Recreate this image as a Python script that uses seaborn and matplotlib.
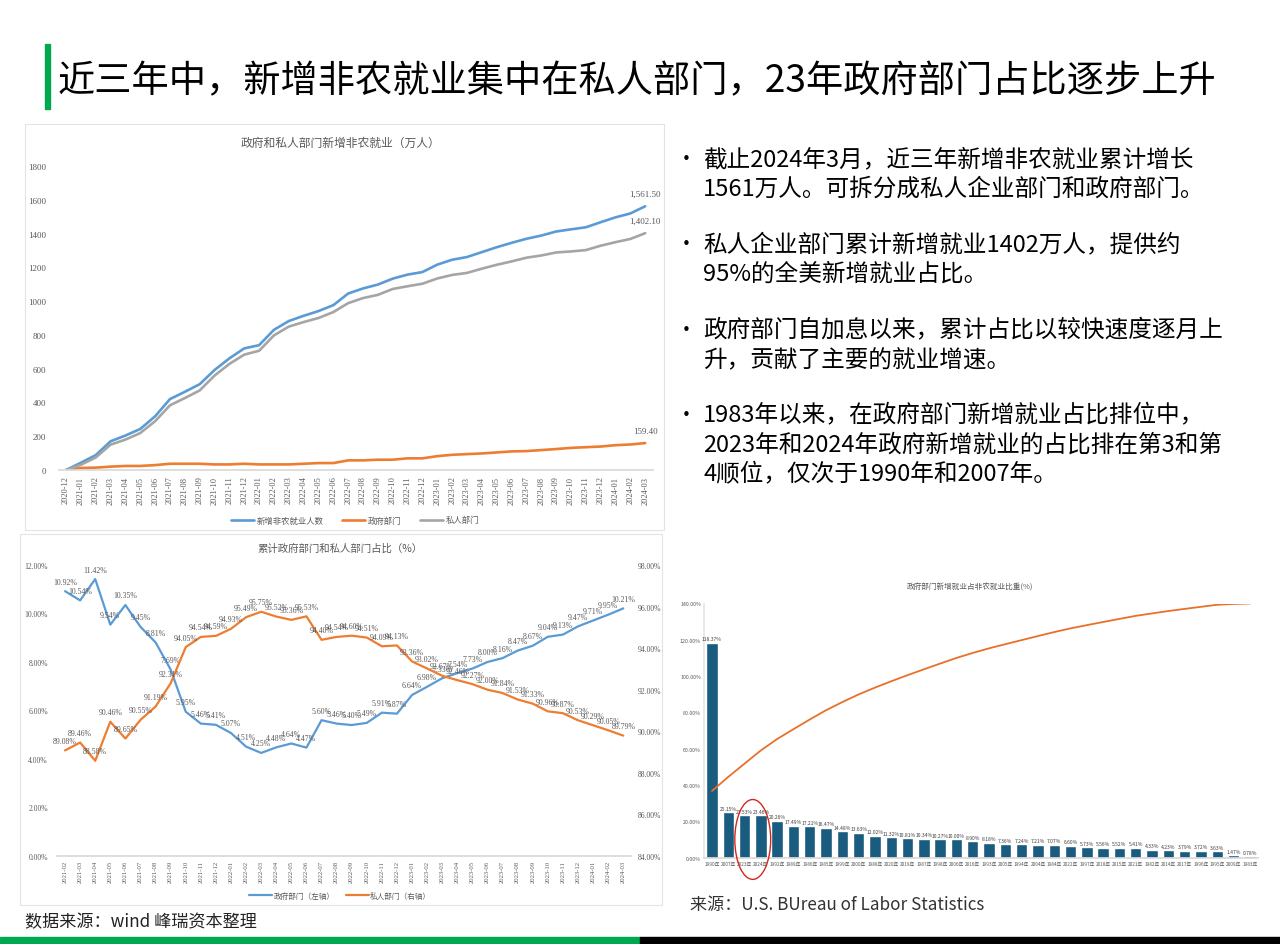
import numpy as np
import matplotlib
matplotlib.use('Agg')
import matplotlib.pyplot as plt
import seaborn as sns
from matplotlib.lines import Line2D
from matplotlib.patches import Rectangle, Ellipse

sns.set_theme(style='white')
plt.rcParams['font.family'] = ['Noto Sans CJK SC', 'DejaVu Sans']
plt.rcParams['axes.unicode_minus'] = False

W, H = 1280, 945

# ---------------- data ----------------
months_top = ['2020-12', '2021-01', '2021-02', '2021-03', '2021-04', '2021-05', '2021-06', '2021-07',
              '2021-08', '2021-09', '2021-10', '2021-11', '2021-12', '2022-01', '2022-02', '2022-03',
              '2022-04', '2022-05', '2022-06', '2022-07', '2022-08', '2022-09', '2022-10', '2022-11',
              '2022-12', '2023-01', '2023-02', '2023-03', '2023-04', '2023-05', '2023-06', '2023-07',
              '2023-08', '2023-09', '2023-10', '2023-11', '2023-12', '2024-01', '2024-02', '2024-03']
total_jobs = [0, 43, 88, 170, 204, 243, 318, 420, 463, 508, 592, 661, 720,
              739, 830, 882, 913, 941, 976, 1045, 1075, 1098, 1133, 1157, 1172,
              1216, 1245, 1261, 1290, 1319, 1345, 1369, 1388, 1412, 1425, 1437, 1467,
              1496, 1519, 1561.5]
gov_jobs = [0, 12, 14, 20, 24, 24, 29, 37, 37, 37, 33, 33, 37,
            33, 33, 33, 37, 41, 41, 57, 57, 61, 61, 69, 69,
            82, 90, 94, 98, 104, 110, 112, 118, 124, 131, 135, 139,
            147, 151, 159.4]
private_jobs = [0, 31, 74, 150, 180, 219, 289, 383, 426, 471, 559, 628, 683,
                706, 797, 849, 876, 900, 935, 988, 1018, 1037, 1072, 1088, 1103,
                1134, 1155, 1167, 1192, 1215, 1235, 1257, 1270, 1288, 1294, 1302, 1328,
                1349, 1368, 1402.1]
top_series = ['新增非农就业人数', '政府部门', '私人部门']

months_share = months_top[2:]
gov_share = [10.92, 10.54, 11.42, 9.54, 10.35, 9.45, 8.81, 7.69, 5.95, 5.46, 5.41,
             5.07, 4.51, 4.25, 4.48, 4.64, 4.47, 5.60, 5.46, 5.40, 5.49, 5.91, 5.87,
             6.64, 6.98, 7.33, 7.54, 7.73, 8.00, 8.16, 8.47, 8.67, 9.04, 9.13, 9.47,
             9.71, 9.95, 10.21]
private_share = [89.08, 89.46, 88.58, 90.46, 89.65, 90.55, 91.19, 92.31, 94.05, 94.54, 94.59,
                 94.93, 95.49, 95.75, 95.52, 95.36, 95.53, 94.40, 94.54, 94.60, 94.51, 94.09, 94.13,
                 93.36, 93.02, 92.67, 92.46, 92.27, 92.00, 91.84, 91.53, 91.33, 90.96, 90.87, 90.53,
                 90.29, 90.05, 89.79]
share_series = ['政府部门（左轴）', '私人部门（右轴）']

bar_years = ['1990年', '2007年', '2023年', '2024年', '1992年', '1989年', '1986年', '1985年', '1999年',
             '2000年', '1988年', '2020年', '2019年', '1987年', '1998年', '2006年', '2016年', '1993年',
             '2005年', '1994年', '2004年', '1984年', '2022年', '1997年', '2018年', '2015年', '2021年',
             '1982年', '2014年', '2017年', '1996年', '1995年', '2009年', '1983年']
bar_vals = [118.37, 25.15, 23.53, 23.46, 20.26, 17.49, 17.21, 16.47, 14.48, 13.63, 12.02, 11.32,
            10.81, 10.34, 10.27, 10.00, 8.90, 8.18, 7.36, 7.24, 7.21, 7.07, 6.60, 5.73, 5.56, 5.52,
            5.41, 4.33, 4.23, 3.79, 3.72, 3.63, 1.47, 0.78]

BLUE = '#5B9BD5'
ORANGE = '#ED7D31'
GRAY = '#A5A5A5'
TXT = '#595959'
SERIF = ['Liberation Serif', 'DejaVu Serif']


def rect(x0, y0, x1, y1):
    return [x0 / W, 1 - y1 / H, (x1 - x0) / W, (y1 - y0) / H]


fig = plt.figure(figsize=(W / 100, H / 100), dpi=100)
fig.patch.set_facecolor('white')

# ---------------- slide decorations ----------------
fig.patches.append(Rectangle((45 / W, 1 - 110 / H), 5 / W, 65 / H, transform=fig.transFigure,
                             color='#00A94F', zorder=5))
fig.text(58 / W, 1 - 82 / H, '近三年中，新增非农就业集中在私人部门，23年政府部门占比逐步上升',
         fontsize=26.8, color='black', ha='left', va='center')
fig.patches.append(Rectangle((0, 0), 640 / W, 7 / H, transform=fig.transFigure, color='#00A94F'))
fig.patches.append(Rectangle((640 / W, 0), 640 / W, 7 / H, transform=fig.transFigure, color='black'))
fig.patches.append(Rectangle((25 / W, 1 - 531 / H), 639 / W, 406 / H, transform=fig.transFigure,
                             fill=False, edgecolor='#E3E3E3', lw=0.8))
fig.patches.append(Rectangle((20 / W, 1 - 906 / H), 642 / W, 371 / H, transform=fig.transFigure,
                             fill=False, edgecolor='#E3E3E3', lw=0.8))

fig.text(25 / W, 1 - 922 / H, '数据来源：wind 峰瑞资本整理', fontsize=12.3, color='#222222',
         ha='left', va='center')
fig.text(690 / W, 1 - 905 / H, '来源：U.S. BUreau of Labor Statistics', fontsize=12.3, color='#333333',
         ha='left', va='center')

bullets = [
    (160, ['截止2024年3月，近三年新增非农就业累计增长', '1561万人。可拆分成私人企业部门和政府部门。']),
    (245, ['私人企业部门累计新增就业1402万人，提供约', '95%的全美新增就业占比。']),
    (331, ['政府部门自加息以来，累计占比以较快速度逐月上', '升，贡献了主要的就业增速。']),
    (416, ['1983年以来，在政府部门新增就业占比排位中，', '2023年和2024年政府新增就业的占比排在第3和第',
           '4顺位，仅次于1990年和2007年。']),
]
for y0, lines in bullets:
    fig.text(676 / W, 1 - y0 / H, '•', fontsize=15, color='black', ha='left', va='center')
    for k, ln in enumerate(lines):
        fig.text(703 / W, 1 - (y0 + k * 29.5) / H, ln, fontsize=17, color='black',
                 ha='left', va='center')

# ---------------- top chart ----------------
ax1 = fig.add_axes(rect(58.6, 167, 652.6, 471))
x_top = np.arange(len(months_top))
for vals, col in zip([total_jobs, gov_jobs, private_jobs], [BLUE, ORANGE, GRAY]):
    sns.lineplot(x=x_top, y=vals, ax=ax1, color=col, linewidth=1.9, legend=False)
ax1.set_xlim(-0.5, len(months_top) - 0.5)
ax1.set_ylim(0, 1800)
ax1.set_yticks(np.arange(0, 1801, 200))
ax1.set_yticklabels([f'{v}' for v in range(0, 1801, 200)], fontsize=6.5, color=TXT, family=SERIF)
ax1.set_xticks(x_top)
ax1.set_xticklabels(months_top, rotation=90, fontsize=6, color=TXT, family=SERIF)
ax1.tick_params(axis='y', length=0, pad=9)
ax1.tick_params(axis='x', length=0, pad=4)
for s in ['top', 'right', 'left']:
    ax1.spines[s].set_visible(False)
ax1.spines['bottom'].set_color('#D9D9D9')
ax1.set_xlabel('')
ax1.set_ylabel('')
for vals in [total_jobs, private_jobs, gov_jobs]:
    ax1.annotate(f'{vals[-1]:,.2f}', (x_top[-1], vals[-1]), xytext=(0, 6), textcoords='offset points',
                 ha='center', va='bottom', fontsize=6.5, color=TXT, family=SERIF)
fig.text(340 / W, 1 - 143 / H, '政府和私人部门新增非农就业（万人）', fontsize=8.5, color=TXT,
         ha='center', va='center')
h1 = [Line2D([], [], color=c, lw=1.9) for c in [BLUE, ORANGE, GRAY]]
fig.legend(h1, top_series, loc='center', bbox_to_anchor=(355 / W, 1 - 521 / H), ncol=3,
           frameon=False, fontsize=6, labelcolor=TXT, handlelength=2.8, columnspacing=2.2,
           handletextpad=0.3)

# ---------------- bottom-left share chart ----------------
ax2 = fig.add_axes(rect(57.5, 566, 630.8, 857))
x_sh = np.arange(len(months_share))
sns.lineplot(x=x_sh, y=gov_share, ax=ax2, color=BLUE, linewidth=1.6, legend=False)
ax2.set_xlim(-0.5, len(months_share) - 0.5)
ax2.set_ylim(0, 12)
ax2.set_yticks(np.arange(0, 12.1, 2))
ax2.set_yticklabels([f'{v:.2f}%' for v in np.arange(0, 12.1, 2)], fontsize=5.5, color=TXT, family=SERIF)
ax2.set_xticks(x_sh)
ax2.set_xticklabels(months_share, rotation=90, fontsize=4.8, color=TXT, family=SERIF)
ax2.tick_params(axis='y', length=0, pad=7)
ax2.tick_params(axis='x', length=0, pad=3)
for s in ['top', 'right', 'left']:
    ax2.spines[s].set_visible(False)
ax2.spines['bottom'].set_color('#D9D9D9')
ax2.set_xlabel('')
ax2.set_ylabel('')
ax2r = ax2.twinx()
sns.lineplot(x=x_sh, y=private_share, ax=ax2r, color=ORANGE, linewidth=1.6, legend=False)
ax2r.set_ylim(84, 98)
ax2r.set_yticks(np.arange(84, 98.1, 2))
ax2r.set_yticklabels([f'{v:.2f}%' for v in np.arange(84, 98.1, 2)], fontsize=5.5, color=TXT, family=SERIF)
ax2r.tick_params(axis='y', length=0, pad=5)
for s in ['top', 'right', 'left', 'bottom']:
    ax2r.spines[s].set_visible(False)
ax2r.set_ylabel('')
ax2r.grid(False)
for xi, v in zip(x_sh, gov_share):
    ax2.annotate(f'{v:.2f}%', (xi, v), xytext=(0, 4), textcoords='offset points', ha='center',
                 va='bottom', fontsize=5.6, color=TXT, family=SERIF)
for xi, v in zip(x_sh, private_share):
    ax2r.annotate(f'{v:.2f}%', (xi, v), xytext=(0, 4), textcoords='offset points', ha='center',
                  va='bottom', fontsize=5.6, color=TXT, family=SERIF)
fig.text(340 / W, 1 - 549 / H, '累计政府部门和私人部门占比（%）', fontsize=7.5, color=TXT,
         ha='center', va='center')
h2 = [Line2D([], [], color=c, lw=1.6) for c in [BLUE, ORANGE]]
fig.legend(h2, share_series, loc='center', bbox_to_anchor=(340 / W, 1 - 897 / H), ncol=2,
           frameon=False, fontsize=5.5, labelcolor=TXT, handlelength=3, columnspacing=1.5,
           handletextpad=0.2)

# ---------------- bottom-right bar chart ----------------
ax3 = fig.add_axes(rect(703.85, 604.5, 1258, 858.6))
sns.barplot(x=bar_years, y=bar_vals, ax=ax3, color='#1A5C80', saturation=1, width=0.7)
ax3.set_xlim(-0.5, len(bar_years) - 0.5)
ax3.set_ylim(0, 140)
ax3.set_yticks(np.arange(0, 141, 20))
ax3.set_yticklabels([f'{v:.2f}%' for v in np.arange(0, 141, 20)], fontsize=3.8, color=TXT)
ax3.set_xticks(np.arange(len(bar_years)))
ax3.set_xticklabels(bar_years, fontsize=3.4, color=TXT)
ax3.tick_params(axis='y', length=0, pad=2)
ax3.tick_params(axis='x', length=0, pad=2.5)
for s in ['top', 'right']:
    ax3.spines[s].set_visible(False)
ax3.spines['bottom'].set_color('#D9D9D9')
ax3.spines['left'].set_color('#E6E6E6')
ax3.set_xlabel('')
ax3.set_ylabel('')
for xi, v in enumerate(bar_vals):
    ax3.annotate(f'{v:.2f}%', (xi, v), xytext=(0, 1), textcoords='offset points', ha='center',
                 va='bottom', fontsize=3.6, color='#404040')
ax3r = ax3.twinx()
cum_share = np.cumsum(bar_vals) / np.sum(bar_vals) * 100
sns.lineplot(x=np.arange(len(bar_years)), y=cum_share, ax=ax3r, color='#E8702A', linewidth=1.3,
             legend=False)
ax3r.set_ylim(0, 100)
ax3r.set_yticks([])
ax3r.set_ylabel('')
for s in ['top', 'right', 'left', 'bottom']:
    ax3r.spines[s].set_visible(False)
ax3r.grid(False)
ax3.add_patch(Ellipse((2.5, 10), width=2.2, height=44, angle=0, fill=False, edgecolor='#D7261E',
                      lw=1.0, clip_on=False, zorder=6))
fig.text(970 / W, 1 - 588 / H, '政府部门新增就业占非农就业比重(%)', fontsize=5.5, color=TXT,
         ha='center', va='center')

fig.savefig('out.png', dpi=100, facecolor='white')
